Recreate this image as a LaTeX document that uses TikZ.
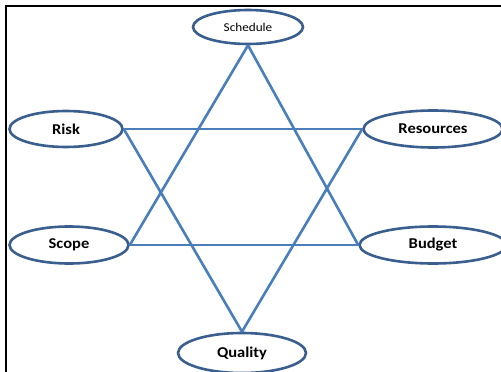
\documentclass[tikz,border=0pt]{standalone}
\usepackage{fontspec}
\setmainfont{Carlito}
\newfontfamily\labelfont[FakeStretch=1.1]{Carlito}
\usepackage{xcolor}
\definecolor{ovalcolor}{HTML}{3A5F8E}
\definecolor{linkcolor}{HTML}{4A7EBB}
\definecolor{framecolor}{HTML}{000000}
\usepackage{tikz}
\usetikzlibrary{shapes.geometric}

\begin{document}
\begin{tikzpicture}[
  x=1pt, y=-1pt,
  oval/.style={ellipse, draw=ovalcolor, line width=2.6pt, fill=white, inner sep=0pt,
    font=\labelfont\bfseries\fontsize{15}{17}\selectfont},
  link/.style={draw=linkcolor, line width=2.6pt},
]
  \useasboundingbox (0,0) rectangle (501,372);
  \clip (0,0) rectangle (501,372);

  % frame, cut at right and bottom
  \draw[framecolor, line width=2.4pt] (6,380) -- (6,6) -- (510,6);

  \node[oval, minimum width=110pt, minimum height=34pt,
    font=\labelfont\fontsize{12}{14}\selectfont] (schedule) at (248,27) {Schedule};
  \node[oval, minimum width=113pt, minimum height=36pt] (risk) at (66,129) {Risk};
  \node[oval, minimum width=139pt, minimum height=37pt] (resources) at (433,129) {Resources};
  \node[oval, minimum width=119pt, minimum height=37pt] (scope) at (69,245) {Scope};
  \node[oval, minimum width=147pt, minimum height=37pt] (budget) at (433,245) {Budget};
  \node[oval, minimum width=128pt, minimum height=40pt] (quality) at (242,353) {Quality};

  \foreach \a/\b in {schedule.south/scope.east, schedule.south/budget.west,
      scope.east/budget.west, risk.east/resources.west,
      risk.east/quality.north, resources.west/quality.north}
    \draw[link] (\a) -- (\b);
\end{tikzpicture}
\end{document}
